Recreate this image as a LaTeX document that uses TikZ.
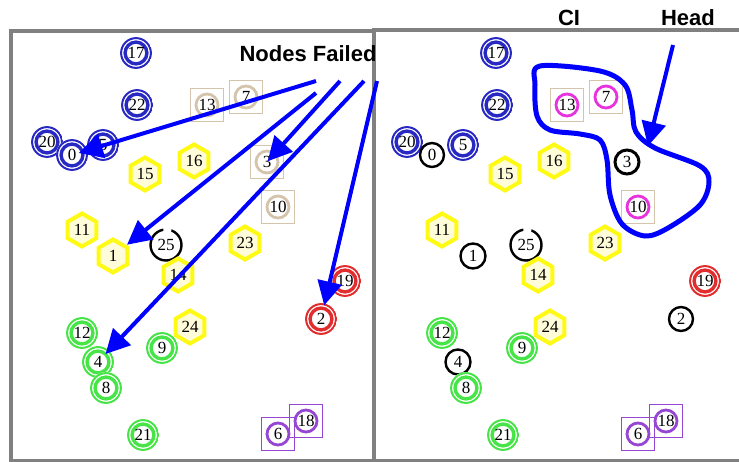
\documentclass[tikz,border=0pt]{standalone}
\usepackage{fontspec}
\setmainfont{Liberation Serif}
\newfontfamily\labelfont{Liberation Sans}
\usetikzlibrary{arrows.meta,shapes.geometric}

\definecolor{ringblue}{RGB}{40,40,195}
\definecolor{ringgreen}{RGB}{70,228,70}
\definecolor{ringred}{RGB}{225,45,45}
\definecolor{hexyellow}{RGB}{255,250,20}
\definecolor{tanline}{RGB}{212,196,172}
\definecolor{ringmagenta}{RGB}{232,50,222}
\definecolor{sqpurple}{RGB}{150,70,210}
\definecolor{framegray}{RGB}{128,128,128}
\definecolor{arrowblue}{RGB}{0,0,255}

\begin{document}
\begin{tikzpicture}[x=1pt,y=-1pt,
  num/.style={font=\fontsize{17}{17}\selectfont, inner sep=0pt, text=black},
  dring/.style={num, circle, minimum size=32pt, fill=white, path picture={
      \draw[#1, line width=2pt] (path picture bounding box.center) circle (14.9pt);
      \draw[#1, line width=3.4pt] (path picture bounding box.center) circle (10.9pt);}},
  bluen/.style={dring=ringblue},
  greenn/.style={dring=ringgreen},
  redn/.style={dring=ringred},
  hexn/.style={num, regular polygon, regular polygon sides=6, shape border rotate=30,
      minimum size=33pt, draw=hexyellow, line width=4pt, fill=yellow!15},
  sqring/.style={num, rectangle, minimum size=33pt, draw=tanline, line width=1.8pt, fill=white,
      path picture={\draw[#1, line width=2.8pt] (path picture bounding box.center) circle (11pt);}},
  tann/.style={sqring=tanline},
  tanmag/.style={sqring=ringmagenta},
  purplen/.style={sqring=sqpurple, draw=sqpurple, line width=1.4pt, fill=none},
  blk/.style={num, circle, minimum size=24pt, draw=black, line width=2.4pt, fill=white},
  framebox/.style={draw=framegray, line width=4pt},
  failarrow/.style={draw=arrowblue, line width=4pt, -{Triangle[length=24pt,width=24pt]}},
  loopline/.style={draw=arrowblue, line width=5pt},
  caption/.style={font=\labelfont\bfseries\fontsize{22}{22}\selectfont, inner sep=0pt}
]
\useasboundingbox (0,0) rectangle (739,462);
\fill[white] (0,0) rectangle (739,462);

% panel frames
\draw[framebox] (11,31) rectangle (374,461);
\draw[framebox] (374,30) rectangle (745,461);

% ---------- left panel ----------
\node[bluen] (L17) at (136,53) {17};
\node[bluen] (L22) at (137,105) {22};
\node[bluen] (L20) at (47,142) {20};
\node[bluen] (L5) at (103,145) {5};
\node[bluen] (L0) at (72,155) {0};
\node[tann] (L13) at (207,105) {13};
\node[tann] (L7) at (246,97) {7};
\node[tann] (L3) at (267,162) {3};
\node[tann] (L10) at (278,207) {10};
\node[hexn] (L16) at (194,161) {16};
\node[hexn] (L15) at (145,174) {15};
\node[hexn] (L11) at (82,230) {11};
\node[hexn] (L1) at (113,256) {1};
\node[blk, minimum size=31pt] (L25) at (166,245) {25};
\node[hexn] (L14) at (178,275) {14};
\node[hexn] (L23) at (245,243) {23};
\node[redn] (L19) at (345,281) {19};
\node[redn] (L2) at (321,319) {2};
\node[greenn] (L12) at (82,333) {12};
\node[greenn] (L9) at (162,348) {9};
\node[hexn] (L24) at (190,327) {24};
\node[greenn] (L4) at (98,362) {4};
\node[greenn] (L8) at (106,388) {8};
\node[greenn] (L21) at (143,435) {21};
\node[purplen] (L18) at (306,421) {18};
\node[purplen] (L6) at (278,434) {6};

% ---------- right panel ----------
\node[bluen] (R17) at (496,53) {17};
\node[bluen] (R22) at (497,105) {22};
\node[bluen] (R20) at (407,142) {20};
\node[bluen] (R5) at (463,145) {5};
\node[blk] (R0) at (432,155) {0};
\node[tanmag] (R13) at (567,105) {13};
\node[tanmag] (R7) at (606,97) {7};
\node[blk, line width=3pt] (R3) at (627,162) {3};
\node[tanmag] (R10) at (638,207) {10};
\node[hexn] (R16) at (554,161) {16};
\node[hexn] (R15) at (505,174) {15};
\node[hexn] (R11) at (442,230) {11};
\node[blk, minimum size=25pt] (R1) at (473,256) {1};
\node[blk, minimum size=31pt] (R25) at (526,245) {25};
\node[hexn] (R14) at (538,275) {14};
\node[hexn] (R23) at (605,243) {23};
\node[redn] (R19) at (705,281) {19};
\node[blk] (R2) at (681,319) {2};
\node[greenn] (R12) at (442,333) {12};
\node[greenn] (R9) at (522,348) {9};
\node[hexn] (R24) at (550,327) {24};
\node[blk, minimum size=25pt] (R4) at (458,362) {4};
\node[greenn] (R8) at (466,388) {8};
\node[greenn] (R21) at (503,435) {21};
\node[purplen] (R18) at (666,421) {18};
\node[purplen] (R6) at (638,434) {6};

% small breaks in the lower rim of node 25
\draw[white, line width=3.5pt] (L25.center) ++(70:15.5pt) arc[start angle=70, end angle=100, radius=15.5pt];
\draw[white, line width=3.5pt] (R25.center) ++(70:15.5pt) arc[start angle=70, end angle=100, radius=15.5pt];

% ---------- captions ----------
\node[caption] (nf) at (308,54) {Nodes Failed};
\node[caption] (ci) at (569,18) {CI};
\node[caption] (hd) at (688,18) {Head};

% arrows from the failure caption
\coordinate (fs1) at (316,81);
\coordinate (fs2) at (316,93);
\coordinate (fs3) at (340,81);
\coordinate (fs4) at (364,81);
\coordinate (fs5) at (377,81);
\draw[failarrow, shorten >=7pt] (fs1) -- (L0.center);
\draw[failarrow, shorten >=18pt] (fs2) -- (L1.center);
\draw[failarrow, shorten >=1pt] (fs3) -- (L3.center);
\draw[failarrow, shorten >=11pt] (fs4) -- (L4.center);
\draw[failarrow, shorten >=14pt] (fs5) -- (L2.center);

% cluster outline and head pointer
\draw[loopline] plot[smooth cycle, tension=0.55] coordinates {
  (540,66) (600,71) (625,85) (632,110) (636,132) (655,148) (700,166)
  (709,182) (700,205) (668,228) (645,236) (622,224) (610,195) (607,160)
  (600,140) (580,134) (550,130) (537,116) (535,85)};
\coordinate (hs) at (673,45);
\coordinate (ht) at (648,146);
\draw[failarrow] (hs) -- (ht);
\end{tikzpicture}
\end{document}
